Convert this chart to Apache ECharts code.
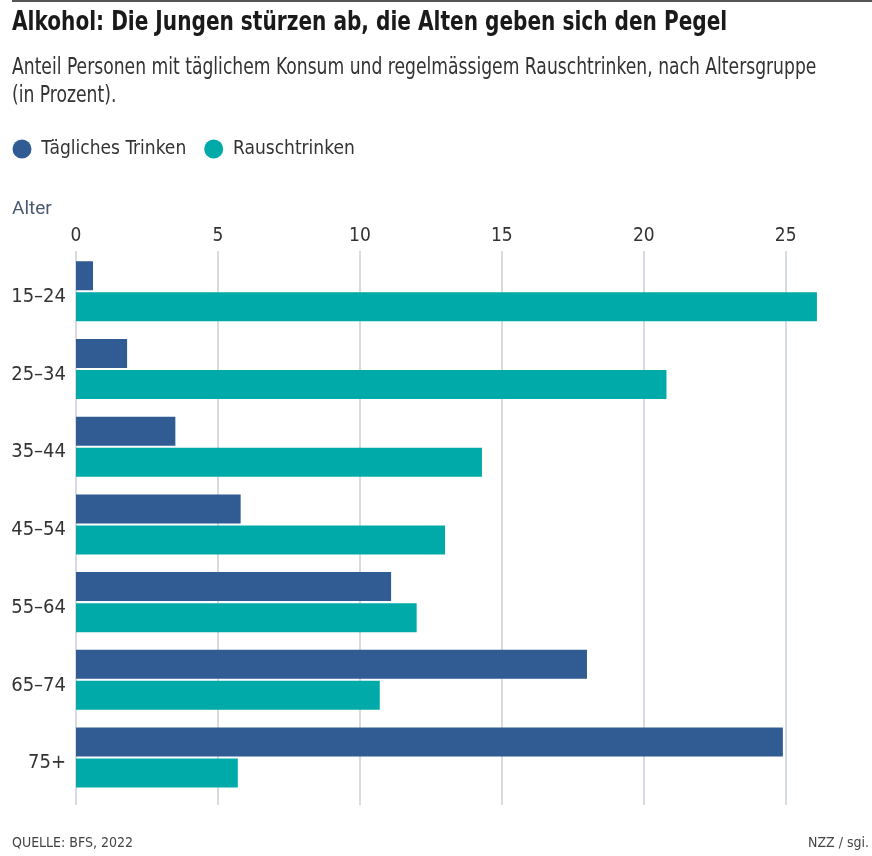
<!DOCTYPE html>
<html>
<head>
<meta charset="utf-8">
<script src="https://cdn.jsdelivr.net/npm/echarts@6/dist/echarts.min.js"></script>
<style>
html,body{margin:0;padding:0;background:#fff;}
#c{width:872px;height:856px;}
</style>
</head>
<body>
<div id="c"></div>
<script>
const categories = ['15–24', '25–34', '35–44', '45–54', '55–64', '65–74', '75+'];
const dailyDrinking = [0.6, 1.8, 3.5, 5.8, 11.1, 18.0, 24.9];
const bingeDrinking = [26.1, 20.8, 14.3, 13.0, 12.0, 10.7, 5.7];
const seriesNames = ['Tägliches Trinken', 'Rauschtrinken'];
const axisMin = 0;
const axisMax = 25;
const axisInterval = 5;

const titleText = 'Alkohol: Die Jungen stürzen ab, die Alten geben sich den Pegel';
const subtitleText = 'Anteil Personen mit täglichem Konsum und regelmässigem Rauschtrinken, nach Altersgruppe\n(in Prozent).';
const axisNameText = 'Alter';
const sourceText = 'QUELLE: BFS, 2022';
const creditText = 'NZZ / sgi.';

const FONT = "'Liberation Sans Narrow', 'DejaVu Sans Condensed', 'Roboto', sans-serif";
const BLUE = '#305c93';
const TEAL = '#00aaa9';

const chart = echarts.init(document.getElementById('c'), null, {renderer: 'canvas'});

const pxPerUnit = 709.7 / (axisMax - axisMin);
const barAxisMax = 28;

chart.setOption({
  backgroundColor: '#fff',
  animation: false,
  title: [
    {text: sourceText, left: 12, top: 836, padding: 0,
     textStyle: {fontFamily: FONT, fontSize: 14, fontWeight: 'normal', color: '#444', lineHeight: 14}},
    {text: creditText, right: 3, top: 836, padding: 0,
     textStyle: {fontFamily: FONT, fontSize: 14, fontWeight: 'normal', color: '#444', lineHeight: 14}}
  ],
  graphic: [
    {type: 'rect', left: 12, top: 0, shape: {width: 860, height: 2}, style: {fill: '#555'}},
    {type: 'text', x: 12, y: 23.5, scaleX: 0.86, silent: true,
     style: {text: titleText, fontFamily: FONT, fontSize: 26, fontWeight: 'bold', fill: '#1a1a1a',
             textAlign: 'left', textVerticalAlign: 'middle'}},
    {type: 'text', x: 12, y: 53.6, scaleX: 0.83, silent: true,
     style: {text: subtitleText, fontFamily: FONT, fontSize: 23, fontWeight: 'normal', fill: '#333',
             lineHeight: 28, textAlign: 'left', textVerticalAlign: 'top'}},
    {type: 'text', x: 12, y: 209, silent: true,
     style: {text: axisNameText, fontFamily: 'Roboto, sans-serif', fontSize: 19, fontWeight: 'normal', fill: '#4b5872',
             textAlign: 'left', textVerticalAlign: 'middle'}}
  ],
  legend: {
    left: 12.5, top: 139.5, padding: 0, icon: 'circle', itemWidth: 28.5, itemHeight: 19, itemGap: 18,
    data: seriesNames,
    textStyle: {fontFamily: FONT, fontSize: 19, color: '#333'}
  },
  grid: [
    {left: 76, top: 252.4, width: pxPerUnit * barAxisMax, height: 544, containLabel: false},
    {left: 76, top: 251, width: pxPerUnit * (axisMax - axisMin), height: 554, containLabel: false}
  ],
  xAxis: [
    {gridIndex: 0, type: 'value', min: axisMin, max: barAxisMax, show: false},
    {gridIndex: 1, type: 'value', position: 'top', min: axisMin, max: axisMax, interval: axisInterval,
     axisLine: {show: false}, axisTick: {show: false},
     axisLabel: {fontFamily: FONT, fontSize: 19, color: '#333', margin: 5},
     splitLine: {show: true, lineStyle: {color: '#d6dae1', width: 2}}}
  ],
  yAxis: [
    {gridIndex: 0, type: 'category', data: categories, inverse: true,
     axisLine: {show: false}, axisTick: {show: false}, splitLine: {show: false},
     axisLabel: {fontFamily: FONT, fontSize: 20, color: '#333', margin: 10,
                 verticalAlign: 'top', lineHeight: 11}},
    {gridIndex: 1, type: 'value', show: false, min: 0, max: 1}
  ],
  series: [
    {name: seriesNames[0], type: 'bar', xAxisIndex: 0, yAxisIndex: 0, data: dailyDrinking,
     barWidth: 29, barGap: '7%', itemStyle: {color: BLUE}, z: 3},
    {name: seriesNames[1], type: 'bar', xAxisIndex: 0, yAxisIndex: 0, data: bingeDrinking,
     barWidth: 29, barGap: '7%', itemStyle: {color: TEAL}, z: 3}
  ]
});
</script>
</body>
</html>
